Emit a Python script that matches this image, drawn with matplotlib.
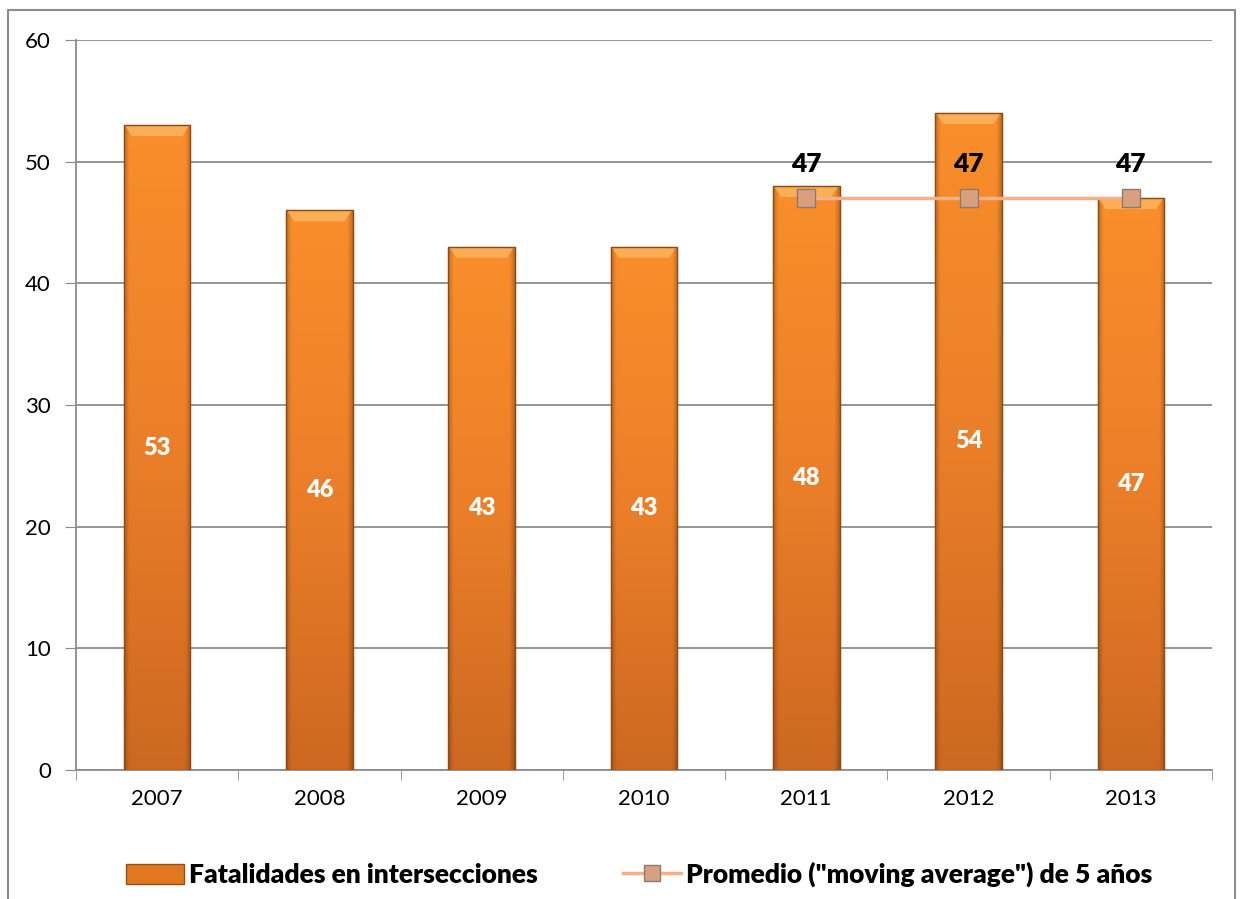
import numpy as np
import matplotlib.pyplot as plt
from matplotlib.colors import to_rgb
from matplotlib.patches import Rectangle, Polygon
from matplotlib.lines import Line2D

years = ['2007', '2008', '2009', '2010', '2011', '2012', '2013']
fatalities = [53, 46, 43, 43, 48, 54, 47]
avg_years = ['2011', '2012', '2013']
moving_avg = [47, 47, 47]

plt.rcParams['font.family'] = ['Lato', 'DejaVu Sans']

fig = plt.figure(figsize=(12.41, 8.99), dpi=100)
ax = fig.add_axes([0.0612, 0.1435, 0.9154, 0.812])

# outer chart frame
fig.patches.append(Rectangle((8 / 1241, -0.05), 1227 / 1241, 1.05 - 10 / 899,
                             transform=fig.transFigure, fill=False,
                             edgecolor='#8c8c8c', linewidth=1.5, zorder=0))

x = np.arange(len(years))
bars = ax.bar(x, fatalities, width=0.41, color='#EB7F29',
              edgecolor='#8e4a14', linewidth=0.8, zorder=3)


def bar_shading(n=200, m=60):
    # vertical tone from dark bottom to bright top, darker towards the sides
    t = np.linspace(0, 1, n)[:, None]
    bottom, mid, top = (np.array(to_rgb(c)) for c in
                        ('#CC6821', '#EB7F29', '#F98E2B'))
    col = np.where(t[..., None] < 0.5,
                   bottom + (mid - bottom) * (t[..., None] / 0.5),
                   mid + (top - mid) * ((t[..., None] - 0.5) / 0.5))
    col = np.broadcast_to(col, (n, m, 3)).copy()
    s = np.linspace(-1, 1, m)
    side = 1 - 0.22 * np.clip((np.abs(s) - 0.85) / 0.15, 0, 1)
    col *= side[None, :, None]
    return np.clip(col, 0, 1)


shade = bar_shading()
for b in bars:
    x0, w, h = b.get_x(), b.get_width(), b.get_height()
    im = ax.imshow(shade, origin='lower', aspect='auto',
                   extent=[x0, x0 + w, 0, h], zorder=3.5)
    im.set_clip_path(b)
    # bevel highlight at the top
    ax.add_patch(Polygon([(x0 + w * 0.02, h - 0.05), (x0 + w * 0.98, h - 0.05),
                          (x0 + w * 0.88, h - 0.9), (x0 + w * 0.12, h - 0.9)],
                         facecolor='#FBB25A', edgecolor='none', alpha=0.9,
                         zorder=3.6))
    ax.add_patch(Rectangle((x0, 0), w, h, fill=False, edgecolor='#8e4a14',
                           linewidth=1.0, zorder=3.7))
    ax.text(x0 + w / 2, h / 2, str(h), ha='center', va='center',
            color='white', fontsize=17, fontweight='heavy', zorder=5)

xa = [years.index(y) for y in avg_years]
ax.plot(xa, moving_avg, color='#F5B08A', linewidth=2.5, zorder=4,
        marker='s', markersize=13, markerfacecolor='#D9A080',
        markeredgecolor='#8d7a6e', markeredgewidth=1.0)
for xi, v in zip(xa, moving_avg):
    ax.text(xi, v + 1.8, str(v), ha='center', va='bottom', color='black',
            fontsize=19, fontweight='heavy', zorder=5)

ax.set_xlim(-0.5, len(years) - 0.5)
ax.set_ylim(0, 60)
ax.set_yticks(range(0, 61, 10))
ax.set_xticks(x)
ax.set_xticklabels(years)
ax.set_xticks(np.arange(-0.5, len(years), 1), minor=True)
ax.tick_params(axis='x', which='major', length=0, pad=14, labelsize=16)
ax.tick_params(axis='x', which='minor', length=7, color='#8c8c8c')
ax.tick_params(axis='y', length=8, color='#8c8c8c', labelsize=16, pad=10)
ax.yaxis.grid(True, color='#8c8c8c', linewidth=1.3, zorder=0)
ax.set_axisbelow(True)
for s in ['top', 'right']:
    ax.spines[s].set_visible(False)
for s in ['left', 'bottom']:
    ax.spines[s].set_color('#8c8c8c')
    ax.spines[s].set_linewidth(1.3)

handles = [Rectangle((0, 0), 1, 1, facecolor='#E07822', edgecolor='#9a4d12'),
           Line2D([], [], color='#F5B08A', linewidth=2.5, marker='s',
                  markersize=12, markerfacecolor='#D9A080',
                  markeredgecolor='#8d7a6e')]
fig.legend(handles, ['Fatalidades en intersecciones',
                     'Promedio ("moving average") de 5 años'],
           loc='center', bbox_to_anchor=(0.515, 0.027), ncol=2, frameon=False,
           prop={'weight': 'heavy', 'size': 19}, columnspacing=3.2,
           handlelength=2.2, handletextpad=0.2, handleheight=0.8)

fig.savefig('out.png', dpi=100)
